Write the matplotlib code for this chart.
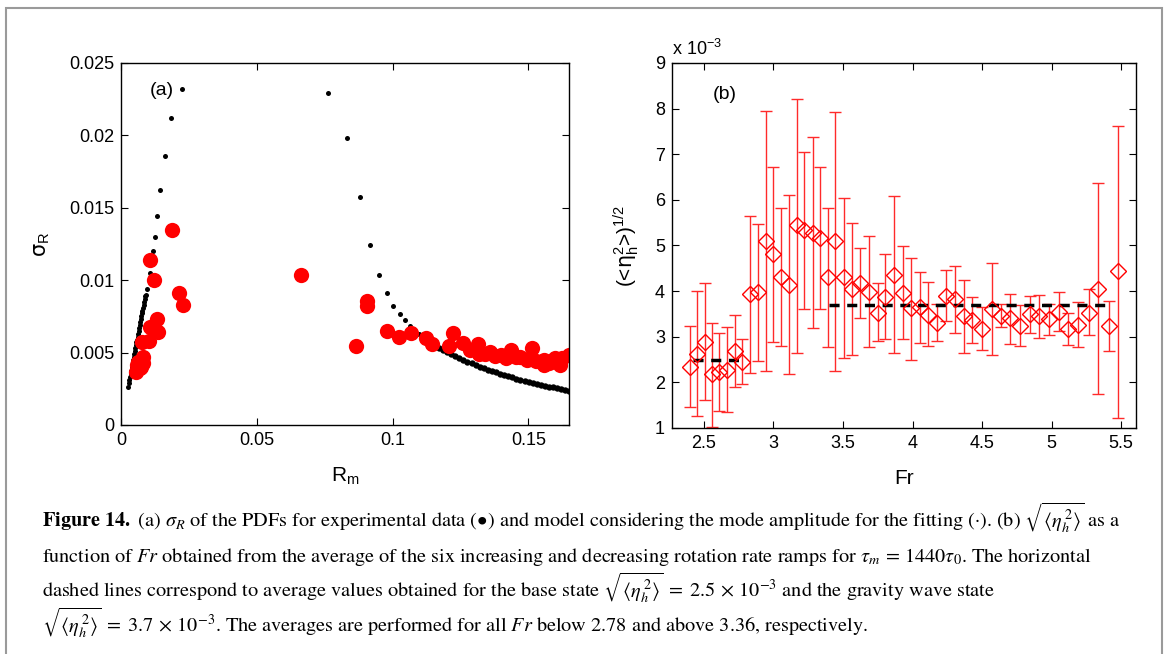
import matplotlib
matplotlib.use('Agg')
import matplotlib.pyplot as plt
from matplotlib.patches import Rectangle
from matplotlib.ticker import FormatStrFormatter

plt.rcParams['font.family'] = ['Liberation Sans', 'DejaVu Sans']

# ---- panel (a): model (small black dots), left branch
model_rm_left = [0.0027, 0.0029, 0.0031, 0.0033, 0.0035, 0.0037, 0.0039, 0.0041, 0.0043,
                 0.0045, 0.0047, 0.0049, 0.0051, 0.0053, 0.0055, 0.0057, 0.0059, 0.0061,
                 0.0063, 0.0065, 0.0067, 0.0069, 0.0071, 0.0073, 0.0075, 0.0077, 0.0079,
                 0.0081, 0.0083, 0.0085, 0.0087, 0.0089, 0.0092, 0.0097, 0.0106, 0.0117,
                 0.0124, 0.0134, 0.0145, 0.0161, 0.0183, 0.0225]
model_sig_left = [0.00265, 0.0029, 0.0031, 0.0033, 0.0035, 0.0037, 0.0039, 0.0041, 0.0043,
                  0.0045, 0.0047, 0.0049, 0.0051, 0.0053, 0.0055, 0.0057, 0.0059, 0.0061,
                  0.0063, 0.0065, 0.0067, 0.0069, 0.0071, 0.0073, 0.0075, 0.0077, 0.0079,
                  0.0081, 0.0083, 0.0085, 0.0087, 0.0089, 0.0090, 0.0094, 0.0105, 0.0120,
                  0.0130, 0.0144, 0.0162, 0.0186, 0.0212, 0.0232]

# right branch: sparse dots then the dense tail
model_rm_right = [0.0764, 0.0834, 0.0880, 0.0918, 0.0950, 0.0979, 0.1003, 0.1026, 0.1046,
                  0.1066, 0.1099]
model_sig_right = [0.0229, 0.0198, 0.01575, 0.01245, 0.01036, 0.0091, 0.00824, 0.00764, 0.00727,
                   0.00684, 0.00626]
model_rm_tail = [0.1126, 0.1141, 0.1156, 0.1171, 0.1186, 0.1201, 0.1216,
                 0.1231, 0.1246, 0.1261, 0.1276, 0.1291, 0.1306, 0.1321, 0.1336, 0.1351,
                 0.1366, 0.1381, 0.1396, 0.1411, 0.1426, 0.1441, 0.1456, 0.1471, 0.1486,
                 0.1501, 0.1516, 0.1531, 0.1546, 0.1561, 0.1576, 0.1591, 0.1606, 0.1621,
                 0.1636, 0.1651]
model_sig_tail = [0.00587, 0.00569, 0.00552, 0.00535, 0.00519, 0.00504, 0.00490,
                  0.00476, 0.00462, 0.00449, 0.00437, 0.00425, 0.00414, 0.00403, 0.00392, 0.00382,
                  0.00372, 0.00363, 0.00353, 0.00345, 0.00336, 0.00328, 0.00320, 0.00312, 0.00305,
                  0.00298, 0.00291, 0.00284, 0.00278, 0.00272, 0.00265, 0.00260, 0.00254, 0.00248,
                  0.00243, 0.00238]

# experimental data (red dots)
exp_rm = [0.0187, 0.0107, 0.0120, 0.0215, 0.0228, 0.0131, 0.0107, 0.0135, 0.0076, 0.0104,
          0.0080, 0.0082, 0.0060, 0.0055, 0.0070, 0.0064, 0.0075,
          0.0662, 0.0907, 0.0907, 0.0866, 0.0979, 0.1025, 0.1067, 0.1122, 0.1145,
          0.1222, 0.1209, 0.1258, 0.1314, 0.1320, 0.1359, 0.1378, 0.1418, 0.1435,
          0.1470, 0.1494, 0.1515, 0.1556, 0.1556, 0.1592, 0.1617, 0.1623, 0.1651,
          0.1285, 0.1340, 0.1400, 0.1455, 0.1530, 0.1575, 0.1600]
exp_sig = [0.01344, 0.01137, 0.01004, 0.00911, 0.00826, 0.00734, 0.00677, 0.00645, 0.00571, 0.00578,
           0.00467, 0.00426, 0.00414, 0.00368, 0.00390, 0.00437, 0.00400,
           0.01034, 0.00856, 0.00820, 0.00548, 0.00647, 0.00610, 0.00638, 0.00603, 0.00557,
           0.00633, 0.00546, 0.00568, 0.00557, 0.00490, 0.00506, 0.00477, 0.00465, 0.00518,
           0.00467, 0.00449, 0.00534, 0.00449, 0.00414, 0.00449, 0.00414, 0.00465, 0.00483,
           0.00520, 0.00490, 0.00480, 0.00470, 0.00440, 0.00430, 0.00460]

# ---- panel (b): sqrt(<eta_h^2>) in units of 1e-3
fr = [2.40, 2.45, 2.51, 2.555, 2.61, 2.667, 2.72, 2.773, 2.828, 2.886, 2.944, 3.00, 3.052,
      3.11, 3.167, 3.219, 3.281, 3.333, 3.393, 3.445, 3.505, 3.564, 3.624, 3.686, 3.75,
      3.805, 3.864, 3.929, 3.99, 4.052, 4.114, 4.179, 4.24, 4.305, 4.369, 4.429, 4.50,
      4.569, 4.638, 4.70, 4.774, 4.845, 4.912, 4.983, 5.052, 5.121, 5.193, 5.267, 5.336,
      5.41, 5.481]
eta = [2.33, 2.62, 2.89, 2.18, 2.22, 2.27, 2.68, 2.45, 3.93, 3.97, 5.10, 4.81, 4.31,
       4.14, 5.44, 5.33, 5.28, 5.16, 4.31, 5.09, 4.30, 4.05, 4.17, 3.99, 3.53,
       3.88, 4.36, 3.96, 3.63, 3.65, 3.47, 3.31, 3.90, 3.82, 3.45, 3.37, 3.18,
       3.61, 3.46, 3.41, 3.24, 3.50, 3.46, 3.39, 3.54, 3.17, 3.26, 3.53, 4.05,
       3.23, 4.43]
eta_low = [1.45, 1.27, 1.62, 1.03, 1.37, 1.34, 1.89, 1.96, 2.20, 2.46, 2.25, 2.88, 2.79,
           2.18, 2.65, 3.60, 3.20, 3.61, 2.77, 2.25, 2.54, 2.60, 3.40, 2.78, 2.90,
           2.96, 2.65, 2.94, 2.50, 2.86, 2.80, 2.90, 3.34, 3.09, 2.65, 2.87, 2.70,
           2.61, 3.21, 2.85, 2.80, 3.09, 2.97, 3.04, 3.12, 2.82, 2.77, 3.04, 1.75,
           2.69, 1.22]
eta_high = [3.23, 4.00, 4.18, 3.31, 3.08, 3.22, 3.47, 2.95, 5.65, 5.48, 7.94, 6.73, 5.83,
            6.10, 8.21, 7.04, 7.37, 6.71, 5.83, 7.92, 6.05, 5.50, 4.95, 5.20, 4.17,
            4.81, 6.09, 4.99, 4.72, 4.42, 4.20, 3.72, 4.46, 4.55, 4.25, 3.87, 3.65,
            4.62, 3.71, 3.94, 3.69, 3.89, 3.91, 3.72, 3.99, 3.52, 3.76, 4.04, 6.37,
            3.78, 7.62]
base_level = 2.5
base_span = [2.42, 2.785]
wave_level = 3.7
wave_span = [3.40, 5.41]

fig = plt.figure(figsize=(11.68, 6.54), dpi=100)

# outer frame of the figure box
fig.add_artist(Rectangle((6 / 1168, -0.01), 1156 / 1168, 1 - 8 / 654 + 0.01,
                         transform=fig.transFigure, fill=False, ec='#9a9a9a', lw=1.5))

tick_fs = 13

# ---- (a)
ax1 = fig.add_axes([0.1036, 0.3502, 0.3836, 0.5535])
ax1.plot(model_rm_left, model_sig_left, 'o', color='black', ms=3.6, mew=0)
ax1.plot(model_rm_right, model_sig_right, 'o', color='black', ms=3.6, mew=0)
ax1.plot(model_rm_tail, model_sig_tail, 'o', color='black', ms=4.6, mew=0)
ax1.plot(exp_rm, exp_sig, 'o', color='red', ms=11, mew=0)
ax1.set_xlim(0, 0.165)
ax1.set_ylim(0, 0.025)
ax1.set_xticks([0, 0.05, 0.1, 0.15])
ax1.set_yticks([0, 0.005, 0.01, 0.015, 0.02, 0.025])
ax1.xaxis.set_major_formatter(FormatStrFormatter('%g'))
ax1.yaxis.set_major_formatter(FormatStrFormatter('%g'))
ax1.text(0.0107, 0.0231, '(a)', fontsize=14, ha='left', va='center')
ax1.set_xlabel(r'R$_\mathregular{m}$', fontsize=15, labelpad=12)
ax1.set_ylabel(r'$\mathsf{\sigma}_\mathregular{R}$', fontsize=15, labelpad=12)

# ---- (b)
ax2 = fig.add_axes([0.5753, 0.3456, 0.3973, 0.5581])
yerr = [[v - lo for v, lo in zip(eta, eta_low)], [hi - v for v, hi in zip(eta, eta_high)]]
ax2.errorbar(fr, eta, yerr=yerr, fmt='D', color='red', ecolor='#ff2a2a', elinewidth=1,
             capsize=4.5, capthick=1, ms=8, mfc='none', mec='red', mew=1)
ax2.plot(base_span, [base_level, base_level], color='black', lw=2.5, dashes=(2.9, 2.2))
ax2.plot(wave_span, [wave_level, wave_level], color='black', lw=2.5, dashes=(2.9, 2.2))
ax2.set_xlim(2.27, 5.607)
ax2.set_ylim(1, 9)
ax2.set_xticks([2.5, 3, 3.5, 4, 4.5, 5, 5.5])
ax2.set_yticks(range(1, 10))
ax2.xaxis.set_major_formatter(FormatStrFormatter('%g'))
ax2.text(2.65, 8.3, '(b)', fontsize=14, ha='center', va='center')
ax2.text(0.0, 1.012, r'x 10$^{\mathregular{-3}}$', transform=ax2.transAxes, fontsize=13,
         ha='left', va='bottom')
ax2.set_xlabel('Fr', fontsize=15, labelpad=12)
ax2.set_ylabel(r'(<$\mathsf{\eta}_\mathregular{h}^\mathregular{2}$>)$^\mathregular{1/2}$',
               fontsize=15, labelpad=10)

for ax in (ax1, ax2):
    ax.tick_params(direction='in', top=True, right=True, length=5, width=0.8,
                   labelsize=tick_fs, pad=5)
    for s in ax.spines.values():
        s.set_linewidth(1.0)

# ---- caption
cap_kw = dict(fontsize=14.6, family='STIXGeneral', math_fontfamily='stix',
              ha='left', va='baseline', transform=fig.transFigure)
cap_lines = [
    r'$\mathbf{Figure\ 14.}$ (a) $\sigma_R$ of the PDFs for experimental data (•) and model considering '
    r'the mode amplitude for the fitting (·). (b) $\sqrt{\langle\eta_h^{\,2}\rangle}$ as a',
    r'function of $Fr$ obtained from the average of the six increasing and decreasing rotation rate '
    r'ramps for $\tau_m\,=\,1440\tau_0$. The horizontal',
    r'dashed lines correspond to average values obtained for the base state '
    r'$\sqrt{\langle\eta_h^{\,2}\rangle}\;=\;2.5\,\times\,10^{-3}$ and the gravity wave state',
    r'$\sqrt{\langle\eta_h^{\,2}\rangle}\;=\;3.7\,\times\,10^{-3}$. The averages are performed for all '
    r'$Fr$ below 2.78 and above 3.36, respectively.',
]
for i, line in enumerate(cap_lines):
    fig.text(42 / 1168, 1 - (527 + 35 * i) / 654, line, **cap_kw)

fig.savefig('out.png', dpi=100)
